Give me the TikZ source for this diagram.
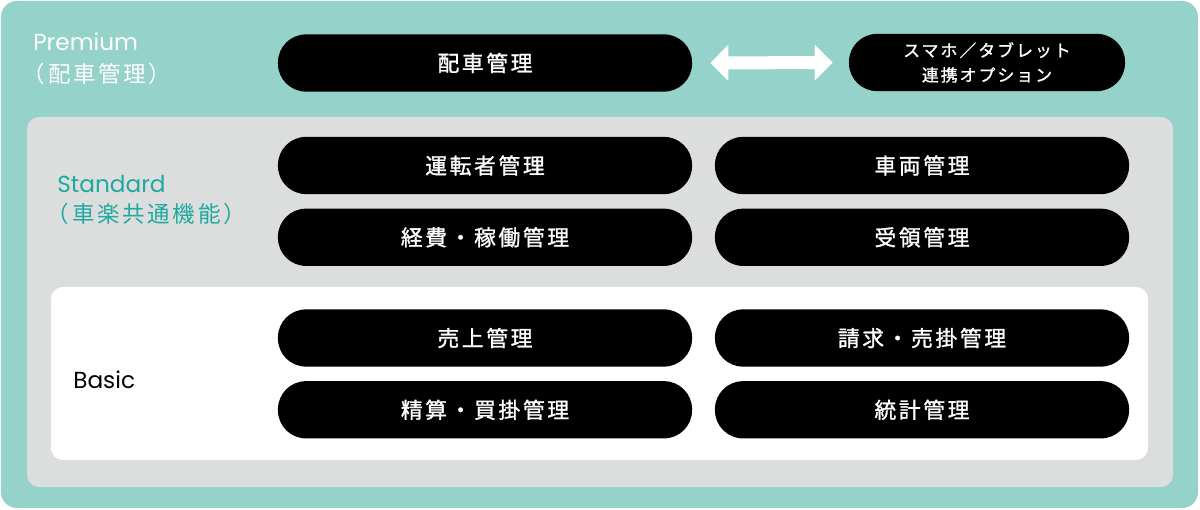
\documentclass[tikz,border=0pt]{standalone}
\usepackage{fontspec}
\setmainfont{Noto Sans CJK JP}
\newfontfamily\planfont{Poppins}
\newfontfamily\pillfont[LetterSpace=12,FakeBold=1.2]{Noto Sans CJK JP}
\newfontfamily\labelfont[LetterSpace=12]{Noto Sans CJK JP}
\usetikzlibrary{positioning,arrows.meta}

\definecolor{premiumteal}{HTML}{94D2CA}
\definecolor{standardgray}{HTML}{DCDEDD}
\definecolor{standardtext}{HTML}{1FA9A0}

\newcommand{\jplabel}[1]{\hspace{-0.45em}\labelfont\fontsize{16pt}{18pt}\selectfont #1}

\tikzset{
  pill/.style={fill=black, text=white, rounded corners=0.7cm, inner sep=0pt,
    minimum width=10.35cm, minimum height=1.43cm,
    font=\pillfont\fontsize{15.5pt}{18pt}\selectfont},
  planlabel/.style={anchor=west, align=left, inner sep=0pt,
    font=\planfont\fontsize{16.5pt}{22pt}\selectfont}
}

\begin{document}
\begin{tikzpicture}[x=0.025cm,y=-0.025cm]
  \useasboundingbox (0,0) rectangle (1200,510);
  % plan boxes
  \fill[premiumteal, rounded corners=0.4cm] (1,1) rectangle (1198,508);
  \fill[standardgray, rounded corners=0.3cm] (27,117) rectangle (1173,487);
  \fill[white, rounded corners=0.3cm] (51,287) rectangle (1148,460);

  % plan names
  \node[planlabel, text=white] (premium) at (33,59)
    {Premium\\[1pt]{\jplabel{（配車管理）}}};
  \node[planlabel, text=standardtext] (standard) at (57,200)
    {Standard\\[0pt]{\jplabel{（車楽共通機能）}}};
  \node[planlabel, text=black] (basic) at (73,380) {Basic};

  % premium
  \node[pill] (haisha) at (485,63) {配車管理};
  \node[pill, minimum width=6.9cm, align=center,
    font=\pillfont\fontsize{12pt}{17.5pt}\selectfont] (sumaho) at (987,62.5)
    {スマホ／タブレット\\連携オプション};
  \draw[white, line width=0.325cm,
    {Triangle[length=0.45cm,width=0.875cm]}-{Triangle[length=0.45cm,width=0.875cm]},
    shorten <=0.45cm, shorten >=0.4cm] (haisha.east) -- (sumaho.west);

  % standard
  \node[pill] (untensha) at (485,165.5) {運転者管理};
  \node[pill, below=0.35cm of untensha] (keihi) {経費・稼働管理};
  \node[pill] (sharyo) at (922,165.5) {車両管理};
  \node[pill, below=0.35cm of sharyo] (juryo) {受領管理};

  % basic
  \node[pill] (uriage) at (485,338) {売上管理};
  \node[pill, below=0.35cm of uriage] (seisan) {精算・買掛管理};
  \node[pill] (seikyu) at (922,338) {請求・売掛管理};
  \node[pill, below=0.35cm of seikyu] (tokei) {統計管理};
\end{tikzpicture}
\end{document}
